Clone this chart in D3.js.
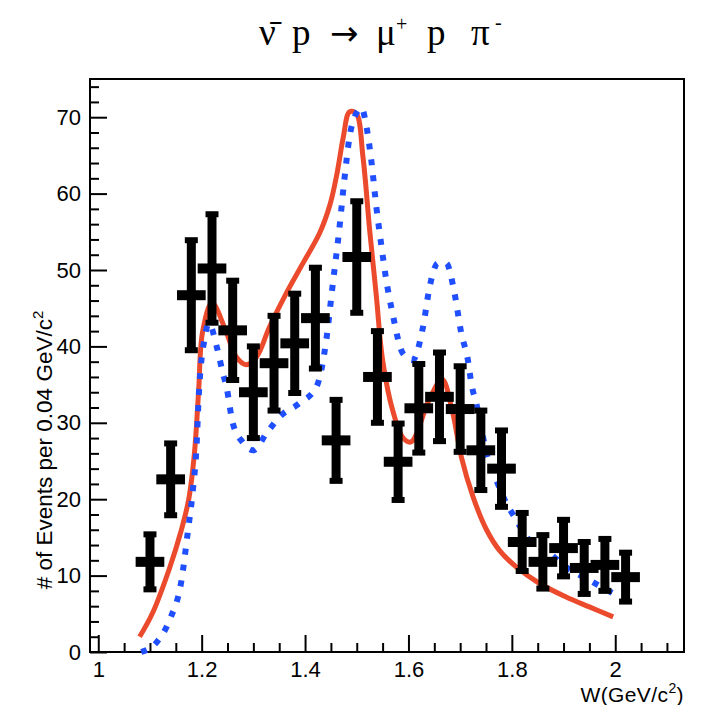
<!DOCTYPE html>
<meta charset="utf-8">
<style>
  body { margin: 0; background: #fff; }
  svg { display: block; background: #fff; }
  .tick text { font-family: "Liberation Sans", Arial, sans-serif; font-size: 22px; fill: #000; }
  .tick line { stroke: #000; stroke-width: 2; }
  .lbl { font-family: "Liberation Sans", Arial, sans-serif; fill: #000; }
  .title { font-family: "Liberation Serif", "Times New Roman", serif; font-size: 37px; fill: #000; }
</style>
<body>
</body>
<script src="https://cdn.jsdelivr.net/npm/d3@7"></script>
<script>
  // measured data points (bin centres, counts, errors)
  const binCenters = [1.10, 1.14, 1.18, 1.22, 1.26, 1.30, 1.34, 1.38, 1.42, 1.46, 1.50, 1.54,
                      1.58, 1.62, 1.66, 1.70, 1.74, 1.78, 1.82, 1.86, 1.90, 1.94, 1.98, 2.02];
  const counts = [11.8, 22.6, 46.7, 50.2, 42.1, 34.0, 37.8, 40.4, 43.7, 27.7, 51.7, 36.0,
                  24.9, 31.9, 33.4, 31.8, 26.4, 24.0, 14.4, 11.8, 13.6, 11.0, 11.4, 9.8];
  const errors = [3.6, 4.7, 7.2, 7.1, 6.5, 6.0, 6.2, 6.5, 6.6, 5.3, 7.3, 6.0,
                  5.0, 5.8, 5.8, 5.6, 5.2, 5.0, 3.8, 3.5, 3.7, 3.4, 3.4, 3.2];
  const binHalf = 0.02;

  // red solid curve
  const redW = [1.080, 1.105, 1.138, 1.160, 1.175, 1.186, 1.194, 1.202, 1.220, 1.248, 1.267, 1.286,
                1.306, 1.331, 1.364, 1.396, 1.428, 1.448, 1.462, 1.474, 1.486, 1.499, 1.512, 1.525,
                1.538, 1.550, 1.570, 1.590, 1.605, 1.640, 1.665, 1.685, 1.702, 1.725, 1.751, 1.776,
                1.809, 1.853, 1.905, 1.950, 1.996];
  const redY = [2.0, 5.1, 11.0, 15.8, 20.0, 26.0, 34.0, 42.0, 45.7, 41.8, 38.6, 37.6,
                38.6, 42.5, 47.0, 50.9, 54.8, 58.5, 62.7, 67.4, 70.7, 70.5, 64.8, 55.2,
                46.5, 38.2, 31.5, 28.0, 27.5, 33.0, 35.7, 31.5, 25.6, 20.3, 16.0, 13.3,
                11.1, 9.0, 7.2, 5.9, 4.6];

  // blue dotted curve
  const blueW = [1.083, 1.112, 1.138, 1.161, 1.173, 1.183, 1.190, 1.194, 1.206, 1.214, 1.229, 1.241,
                 1.248, 1.260, 1.280, 1.300, 1.326, 1.351, 1.390, 1.422, 1.441, 1.453, 1.466, 1.476,
                 1.486, 1.499, 1.509, 1.519, 1.528, 1.538, 1.548, 1.557, 1.569, 1.589, 1.608, 1.628,
                 1.641, 1.657, 1.673, 1.689, 1.702, 1.715, 1.722, 1.731, 1.753, 1.770, 1.789, 1.805,
                 1.828, 1.872, 1.905, 1.950, 1.995];
  const blueY = [0.0, 1.2, 4.2, 9.4, 15.6, 21.2, 26.8, 33.0, 41.2, 43.0, 40.0, 36.5,
                 34.7, 30.0, 27.4, 26.4, 28.7, 30.8, 32.6, 34.7, 40.8, 47.8, 55.2, 61.8,
                 67.4, 70.5, 71.2, 68.7, 64.4, 58.2, 53.0, 48.7, 44.4, 39.1, 38.2, 42.5,
                 47.8, 50.9, 50.9, 47.0, 41.8, 38.2, 35.0, 32.6, 25.5, 22.5, 19.5, 17.7,
                 15.1, 13.0, 11.1, 9.4, 7.7];

  const xMajor = [1, 1.2, 1.4, 1.6, 1.8, 2];
  const yMajor = [0, 10, 20, 30, 40, 50, 60, 70];
  const xMinor = d3.range(1, 2.11, 0.05).filter(v => !xMajor.some(m => Math.abs(m - v) < 1e-6));
  const yMinor = d3.range(0, 75, 2).filter(v => v % 10 !== 0);

  const W = 701, H = 705;
  const fl = 90, fr = 684, ft = 79, fb = 652;

  const svg = d3.select('body').append('svg')
    .attr('width', W).attr('height', H);

  const x = d3.scaleLinear().domain([0.984, 2.133]).range([fl, fr]);
  const y = d3.scaleLinear().domain([0, 75]).range([fb, ft]);

  // frame
  svg.append('rect')
    .attr('x', fl).attr('y', ft)
    .attr('width', fr - fl).attr('height', fb - ft)
    .attr('fill', 'none').attr('stroke', '#000').attr('stroke-width', 2);

  // x axis
  svg.append('g')
    .attr('transform', `translate(0, ${fb})`)
    .call(d3.axisBottom(x).tickValues(xMajor).tickSize(-17).tickPadding(9)
            .tickFormat(d3.format('')))
    .call(g => g.select('.domain').remove());
  svg.append('g')
    .attr('transform', `translate(0, ${fb})`)
    .call(d3.axisBottom(x).tickValues(xMinor).tickSize(-9).tickFormat(''))
    .call(g => g.select('.domain').remove());

  // y axis
  svg.append('g')
    .attr('transform', `translate(${fl}, 0)`)
    .call(d3.axisLeft(y).tickValues(yMajor).tickSize(-17).tickPadding(9))
    .call(g => g.select('.domain').remove());
  svg.append('g')
    .attr('transform', `translate(${fl}, 0)`)
    .call(d3.axisLeft(y).tickValues(yMinor).tickSize(-9).tickFormat(''))
    .call(g => g.select('.domain').remove());

  // curves
  const redLine = d3.line()
    .x(d => x(d[0])).y(d => y(d[1]))
    .curve(d3.curveCatmullRom.alpha(0.5));
  const blueLine = d3.line()
    .x(d => x(d[0])).y(d => y(d[1]))
    .curve(d3.curveMonotoneX);

  const plot = svg.append('g');
  plot.append('path')
    .datum(d3.zip(redW, redY))
    .attr('d', redLine)
    .attr('fill', 'none')
    .attr('stroke', '#ec4a2c')
    .attr('stroke-width', 5);

  plot.append('path')
    .datum(d3.zip(blueW, blueY))
    .attr('d', blueLine)
    .attr('fill', 'none')
    .attr('stroke', '#1f4fff')
    .attr('stroke-width', 6)
    .attr('stroke-dasharray', '6,10');

  // error bars
  const pts = binCenters.map((c, i) => ({c, v: counts[i], e: errors[i]}));
  const eb = plot.append('g').attr('stroke', '#000');

  eb.selectAll('line.v')
    .data(pts).join('line').attr('class', 'v')
    .attr('x1', d => x(d.c)).attr('x2', d => x(d.c))
    .attr('y1', d => y(d.v + d.e)).attr('y2', d => y(d.v - d.e))
    .attr('stroke-width', 9);

  eb.selectAll('line.h')
    .data(pts).join('line').attr('class', 'h')
    .attr('x1', d => x(d.c - binHalf) - 4).attr('x2', d => x(d.c + binHalf) + 4)
    .attr('y1', d => y(d.v)).attr('y2', d => y(d.v))
    .attr('stroke-width', 10);

  eb.selectAll('line.cap')
    .data(pts.flatMap(d => [{c: d.c, v: d.v + d.e}, {c: d.c, v: d.v - d.e}]))
    .join('line').attr('class', 'cap')
    .attr('x1', d => x(d.c) - 6.5).attr('x2', d => x(d.c) + 6.5)
    .attr('y1', d => y(d.v)).attr('y2', d => y(d.v))
    .attr('stroke-width', 6);

  // axis titles
  svg.append('text').attr('class', 'lbl')
    .attr('x', fr).attr('y', 702)
    .attr('text-anchor', 'end')
    .style('font-size', '21px')
    .style('letter-spacing', '0.4px')
    .call(t => {
      t.append('tspan').text('W(GeV/c');
      t.append('tspan').attr('dy', -9).style('font-size', '14px').text('2');
      t.append('tspan').attr('dy', 9).text(')');
    });

  svg.append('text').attr('class', 'lbl')
    .attr('transform', 'translate(52, 450) rotate(-90)')
    .attr('text-anchor', 'middle')
    .style('font-size', '22.5px')
    .call(t => {
      t.append('tspan').text('# of Events per 0.04 GeV/c');
      t.append('tspan').attr('dy', -9).style('font-size', '15px').text('2');
    });

  // title
  const title = svg.append('text').attr('class', 'title');
  const tparts = [
    {s: 'ν\u0304', x: 259, y: 45},
    {s: 'p', x: 292, y: 45},
    {s: '→', x: 330, y: 45, ff: 'DejaVu Sans', f: 34},
    {s: 'μ', x: 376, y: 45},
    {s: '+', x: 396, y: 31, f: 20},
    {s: 'p', x: 427, y: 45},
    {s: 'π', x: 471, y: 45},
    {s: '-', x: 495, y: 29, f: 20}
  ];
  title.selectAll('tspan').data(tparts).join('tspan')
    .attr('x', d => d.x).attr('y', d => d.y)
    .style('font-size', d => d.f ? d.f + 'px' : null)
    .style('font-family', d => d.ff || null)
    .text(d => d.s);
</script>
